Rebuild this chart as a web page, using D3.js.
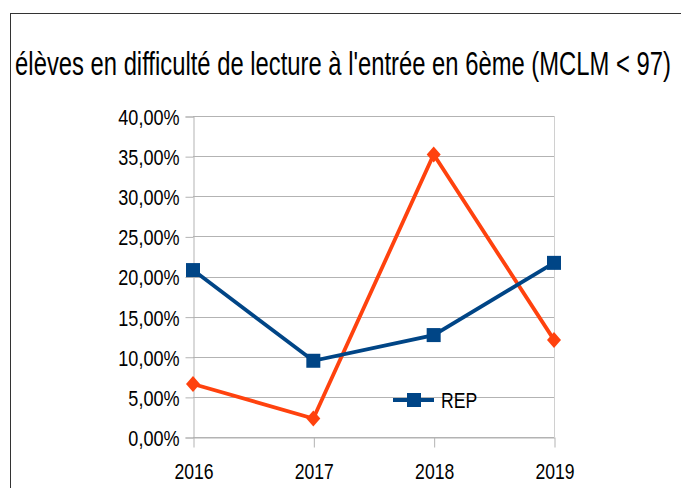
<!DOCTYPE html>
<html>
<head>
<meta charset="utf-8">
<script src="https://cdn.jsdelivr.net/npm/d3@7"></script>
<style>
  body { margin: 0; background: #fff; }
  text { font-family: "Liberation Sans Narrow", "Liberation Sans", sans-serif; fill: #000; }
</style>
</head>
<body>
<div id="chart"></div>
<script>
  const years = ["2016", "2017", "2018", "2019"];
  const repValues = [0.208, 0.095, 0.127, 0.217];
  const otherValues = [0.066, 0.023, 0.352, 0.121];
  const yTicks = [0, 0.05, 0.10, 0.15, 0.20, 0.25, 0.30, 0.35, 0.40];
  const titleText = "élèves en difficulté de lecture à l'entrée en 6ème (MCLM < 97)";

  const svg = d3.select("#chart")
    .append("svg")
    .attr("width", 681)
    .attr("height", 488);

  // squeeze text like a narrow font
  function narrow(sel, k) {
    sel.each(function () {
      const w = this.getComputedTextLength();
      d3.select(this).attr("textLength", w * k).attr("lengthAdjust", "spacingAndGlyphs");
    });
  }

  // outer frame
  svg.append("rect")
    .attr("x", 10.5).attr("y", 13.5)
    .attr("width", 680).attr("height", 500)
    .attr("fill", "none")
    .attr("stroke", "#333")
    .attr("stroke-width", 1);

  // title, scaled horizontally to fit like the narrow font
  const titleG = svg.append("g");
  const title = titleG.append("text")
    .attr("x", 0).attr("y", 0)
    .attr("text-anchor", "middle")
    .attr("font-size", 33)
    .text(titleText);
  const tk = 656 / title.node().getComputedTextLength();
  titleG.attr("transform", `translate(343,75) scale(${tk},1)`);

  const margin = { top: 116, left: 193 };
  const width = 361, height = 321;

  const x = d3.scalePoint().domain(years).range([0, width]);
  const y = d3.scaleLinear().domain([0, 0.4]).range([height, 0]);

  const g = svg.append("g").attr("transform", `translate(${margin.left},${margin.top})`);

  // gridlines
  g.append("g").selectAll("line")
    .data(yTicks)
    .enter().append("line")
    .attr("x1", 0).attr("x2", width)
    .attr("y1", d => Math.round(y(d)) + 0.5)
    .attr("y2", d => Math.round(y(d)) + 0.5)
    .attr("stroke", "#b3b3b3");

  g.append("line")
    .attr("x1", width + 0.5).attr("x2", width + 0.5)
    .attr("y1", 0).attr("y2", height)
    .attr("stroke", "#d0d0d0");

  const fmt = d => d3.format(".2f")(d * 100).replace(".", ",") + "%";

  const yAxis = g.append("g")
    .attr("transform", "translate(0.5,0.5)")
    .call(d3.axisLeft(y).tickValues(yTicks).tickFormat(fmt).tickSize(8).tickPadding(6));
  yAxis.select(".domain").attr("stroke", "#b3b3b3");
  yAxis.selectAll(".tick line").attr("stroke", "#b3b3b3");
  yAxis.selectAll("text").attr("font-size", 22).attr("dy", "0.36em").call(narrow, 0.82);

  const xAxis = g.append("g")
    .attr("transform", `translate(0.5,${height + 0.5})`)
    .call(d3.axisBottom(x).tickSize(10).tickPadding(16).tickSizeOuter(0));
  xAxis.select(".domain").attr("stroke", "#b3b3b3");
  xAxis.selectAll(".tick line").attr("stroke", "#b3b3b3");
  xAxis.selectAll("text").attr("font-size", 22).call(narrow, 0.8);

  const line = d3.line().x((d, i) => x(years[i])).y(d => y(d));

  // orange series (diamonds)
  g.append("path")
    .datum(otherValues)
    .attr("d", line)
    .attr("fill", "none")
    .attr("stroke", "#ff420e")
    .attr("stroke-width", 3.8);

  g.selectAll(".diamond")
    .data(otherValues)
    .enter().append("path")
    .attr("class", "diamond")
    .attr("transform", (d, i) => `translate(${x(years[i])},${y(d)})`)
    .attr("d", "M0,-8L7,0L0,8L-7,0Z")
    .attr("fill", "#ff420e");

  // REP series (squares)
  g.append("path")
    .datum(repValues)
    .attr("d", line)
    .attr("fill", "none")
    .attr("stroke", "#004586")
    .attr("stroke-width", 3.8);

  g.selectAll(".square")
    .data(repValues)
    .enter().append("rect")
    .attr("class", "square")
    .attr("x", (d, i) => x(years[i]) - 7)
    .attr("y", d => y(d) - 7)
    .attr("width", 14).attr("height", 14)
    .attr("fill", "#004586");

  // legend
  const legend = svg.append("g").attr("transform", "translate(393,400)");
  legend.append("line")
    .attr("x1", 0).attr("x2", 41)
    .attr("stroke", "#004586").attr("stroke-width", 3.8);
  legend.append("rect")
    .attr("x", 14).attr("y", -7)
    .attr("width", 14).attr("height", 14)
    .attr("fill", "#004586");
  legend.append("text")
    .attr("x", 48).attr("y", 8)
    .attr("font-size", 22)
    .text("REP")
    .call(narrow, 0.8);
</script>
</body>
</html>
